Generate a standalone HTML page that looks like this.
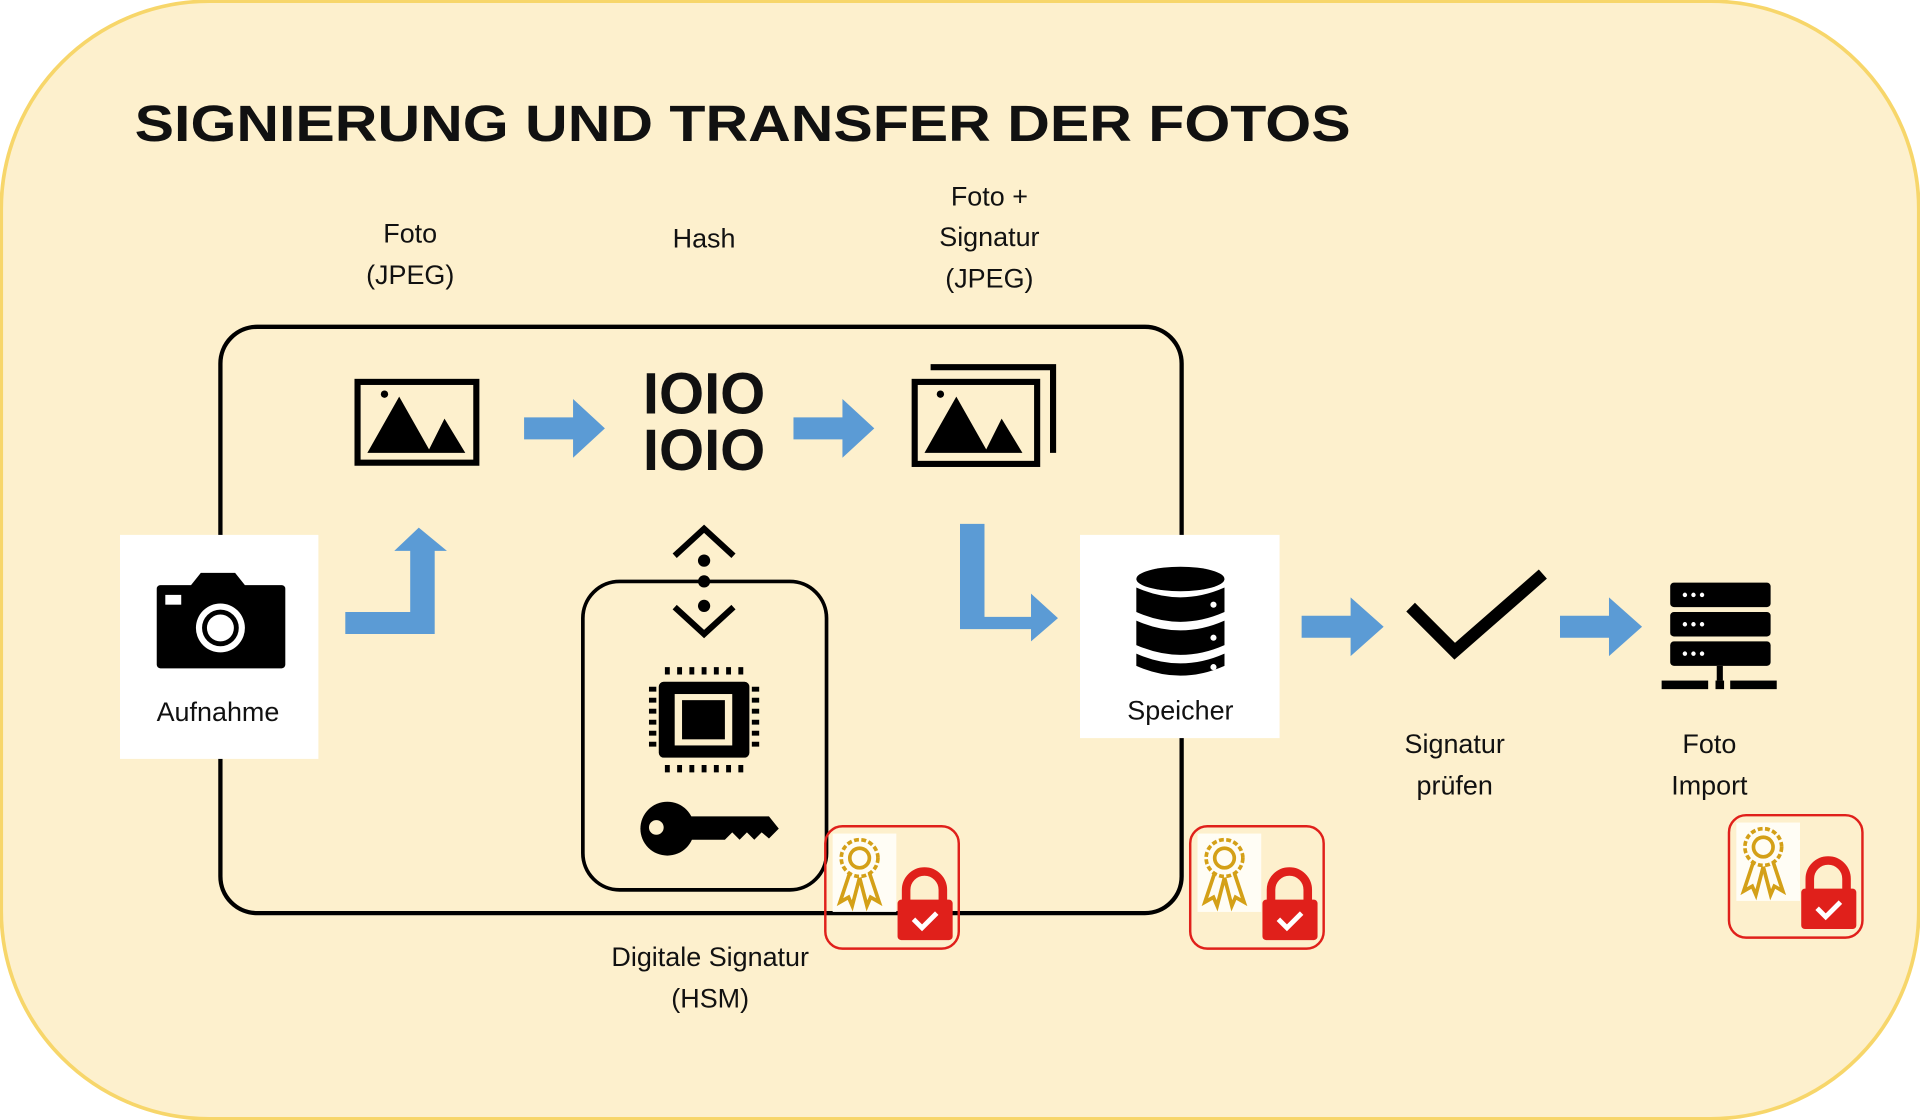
<!DOCTYPE html>
<html><head><meta charset="utf-8"><style>
html,body{margin:0;padding:0;background:#fff;}
svg{display:block;}
text{font-family:"Liberation Sans",sans-serif;fill:#111;}
.l{font-size:22px;text-anchor:middle;}
</style></head><body>
<svg width="1920" height="1120" viewBox="0 0 1568 915" preserveAspectRatio="none" xmlns="http://www.w3.org/2000/svg">
<defs>
<g id="badge">
 <rect x="0" y="0" width="109" height="100" rx="14" fill="none" stroke="#e0201b" stroke-width="2"/>
 <rect x="6" y="6" width="52" height="64" fill="#fffdf5"/>
 <g fill="none" stroke="#d4a017" stroke-width="3">
  <circle cx="28" cy="26" r="15" stroke-dasharray="4 2"/>
  <circle cx="28" cy="26" r="8"/>
  <path d="M20 38 L12 62 L19 58 L22 65 L28 42"/>
  <path d="M36 38 L44 62 L37 58 L34 65 L28 42"/>
 </g>
 <path d="M66 62 v-10 a15 15 0 0 1 30 0 v10" fill="none" stroke="#e0201b" stroke-width="7"/>
 <rect x="59" y="60" width="45" height="33" rx="3" fill="#e0201b"/>
 <path d="M72 76 l7 7 l12 -12" fill="none" stroke="#fff" stroke-width="4"/>
</g>
<g id="pic">
 <path d="M0 70 L40 0 L80 70Z" fill="#000"/>
</g>
</defs>
<rect x="1" y="1" width="1566" height="913" rx="170" fill="#fdf0cd" stroke="#f7d66a" stroke-width="3"/>
<text x="110" y="115" font-size="42" font-weight="bold" textLength="993" lengthAdjust="spacingAndGlyphs">SIGNIERUNG UND TRANSFER DER FOTOS</text>

<text class="l" x="335" y="198">Foto</text><text class="l" x="335" y="232">(JPEG)</text>
<text class="l" x="575" y="202">Hash</text>
<text class="l" x="808" y="168">Foto +</text><text class="l" x="808" y="201">Signatur</text><text class="l" x="808" y="235">(JPEG)</text>

<rect x="180" y="267" width="785" height="479" rx="30" fill="none" stroke="#000" stroke-width="3.5"/>

<!-- camera box -->
<rect x="98" y="437" width="162" height="183" fill="#fff"/>
<path d="M128 478 h28 l8 -10 h28 l8 10 h30 a3 3 0 0 1 3 3 v62 a3 3 0 0 1 -3 3 h-99 a3 3 0 0 1 -3 -3 v-62 a3 3 0 0 1 3 -3z" fill="#000"/>
<rect x="135" y="486" width="13" height="8" fill="#fff"/>
<circle cx="180" cy="513" r="20" fill="#fff"/><circle cx="180" cy="513" r="15" fill="#000"/><circle cx="180" cy="513" r="11" fill="#fff"/>
<text class="l" x="178" y="589">Aufnahme</text>

<!-- image icon 1 -->
<rect x="292" y="312" width="97" height="66" fill="none" stroke="#000" stroke-width="5"/>
<path d="M300 370 L326 324 L352 370Z M349 370 L363 342 L380 370Z" fill="#000"/>
<circle cx="314" cy="322" r="3" fill="#000"/>

<!-- arrows -->
<g fill="#5b9bd5">
 <path d="M428 341 h40 v-15 l26 24 l-26 24 v-15 h-40z"/>
 <path d="M648 341 h40 v-15 l26 24 l-26 24 v-15 h-40z"/>
 <path d="M1063 503 h40 v-15 l27 24 l-27 24 v-15 h-40z"/>
 <path d="M1274 503 h40 v-15 l27 24 l-27 24 v-15 h-40z"/>
 <path d="M282 500 h53 v-50 h-13 l20 -19 l23 19 h-10 v68 h-73z"/>
 <path d="M784 428 h20 v76 h38 v-19 l22 20 l-22 19 v-10 h-58z"/>
</g>

<!-- 1010 -->
<text x="575" y="338" font-size="48" font-weight="bold" text-anchor="middle" textLength="100" lengthAdjust="spacingAndGlyphs">IOIO</text>
<text x="575" y="384" font-size="48" font-weight="bold" text-anchor="middle" textLength="100" lengthAdjust="spacingAndGlyphs">IOIO</text>

<!-- stacked image -->
<path d="M760 300 h100 v70" fill="none" stroke="#000" stroke-width="5"/>
<rect x="747" y="312" width="100" height="67" fill="#fdf0cd" stroke="#000" stroke-width="5"/>
<path d="M755 370 L781 324 L807 370Z M804 370 L818 342 L835 370Z" fill="#000"/>
<circle cx="768" cy="322" r="3" fill="#000"/>

<!-- HSM box -->
<rect x="476" y="475" width="199" height="252" rx="30" fill="none" stroke="#000" stroke-width="3"/>
<path d="M551 454 l24 -22 l24 22 M551 496 l24 22 l24 -22" fill="none" stroke="#000" stroke-width="5"/>
<circle cx="575" cy="458" r="5"/><circle cx="575" cy="475" r="5"/><circle cx="575" cy="495" r="5"/>
<!-- chip -->
<rect x="538" y="557" width="74" height="62" rx="4" fill="#000"/>
<rect x="551" y="567" width="47" height="42" fill="#fdf0cd"/>
<rect x="557" y="572" width="35" height="32" fill="#000"/>
<g stroke="#000" stroke-width="4">
 <path d="M530 563h6 M530 572h6 M530 581h6 M530 590h6 M530 599h6 M530 608h6"/>
 <path d="M614 563h6 M614 572h6 M614 581h6 M614 590h6 M614 599h6 M614 608h6"/>
 <path d="M545 545v6 M555 545v6 M565 545v6 M575 545v6 M585 545v6 M595 545v6 M605 545v6"/>
 <path d="M545 625v6 M555 625v6 M565 625v6 M575 625v6 M585 625v6 M595 625v6 M605 625v6"/>
</g>
<!-- key -->
<circle cx="545" cy="677" r="22" fill="#000"/><circle cx="536" cy="676" r="6" fill="#fdf0cd"/>
<path d="M560 667 h68 l8 10 l-8 8 l-6 -5 l-6 6 l-6 -6 l-6 6 l-6 -6 l-6 6 h-32z" fill="#000"/>

<text class="l" x="580" y="789">Digitale Signatur</text><text class="l" x="580" y="823">(HSM)</text>

<!-- Speicher -->
<rect x="882" y="437" width="163" height="166" fill="#fff"/>
<g fill="#000">
 <ellipse cx="964" cy="473" rx="36" ry="10"/>
 <path d="M928 480 q36 16 72 0 v20 q-36 16 -72 0z"/>
 <path d="M928 507 q36 16 72 0 v20 q-36 16 -72 0z"/>
 <path d="M928 534 q36 16 72 0 v10 q-36 16 -72 0z"/>
</g>
<circle cx="991" cy="494" r="2.5" fill="#fff"/><circle cx="991" cy="521" r="2.5" fill="#fff"/><circle cx="991" cy="545" r="2.5" fill="#fff"/>
<text class="l" x="964" y="588">Speicher</text>

<!-- check -->
<path d="M1152 496 l36 36 l72 -63" fill="none" stroke="#000" stroke-width="10"/>
<text class="l" x="1188" y="615">Signatur</text><text class="l" x="1188" y="649">prüfen</text>

<!-- server -->
<g fill="#000">
 <rect x="1364" y="476" width="82" height="20" rx="3"/>
 <rect x="1364" y="500" width="82" height="20" rx="3"/>
 <rect x="1364" y="524" width="82" height="20" rx="3"/>
 <rect x="1402" y="544" width="5" height="12"/>
 <rect x="1357" y="556" width="38" height="7"/><rect x="1401" y="556" width="7" height="7"/><rect x="1413" y="556" width="38" height="7"/>
</g>
<g fill="#fff"><circle cx="1376" cy="486" r="1.8"/><circle cx="1383" cy="486" r="1.8"/><circle cx="1390" cy="486" r="1.8"/>
<circle cx="1376" cy="510" r="1.8"/><circle cx="1383" cy="510" r="1.8"/><circle cx="1390" cy="510" r="1.8"/>
<circle cx="1376" cy="534" r="1.8"/><circle cx="1383" cy="534" r="1.8"/><circle cx="1390" cy="534" r="1.8"/></g>
<text class="l" x="1396" y="615">Foto</text><text class="l" x="1396" y="649">Import</text>

<use href="#badge" x="674" y="675"/>
<use href="#badge" x="972" y="675"/>
<use href="#badge" x="1412" y="666"/>
</svg>
</body></html>
